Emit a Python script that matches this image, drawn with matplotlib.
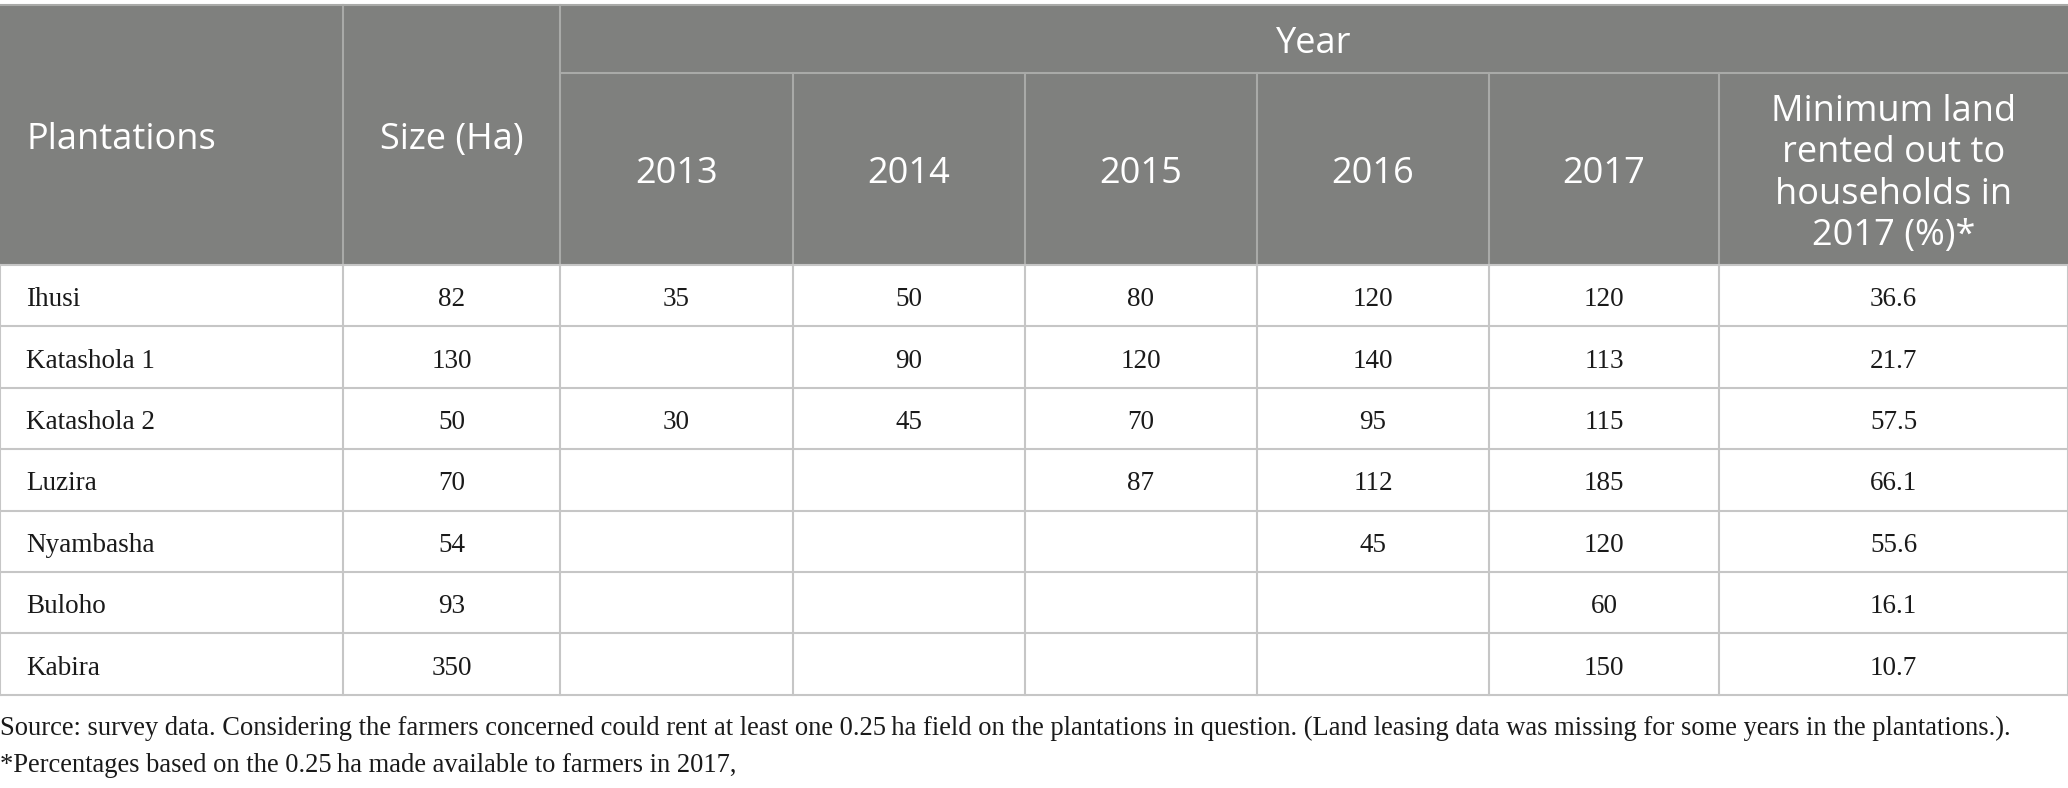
import matplotlib.pyplot as plt
from matplotlib.patches import Rectangle

# table content
plantations = ["Ihusi", "Katashola 1", "Katashola 2", "Luzira", "Nyambasha", "Buloho", "Kabira"]
size_ha = [82, 130, 50, 70, 54, 93, 350]
years = ["2013", "2014", "2015", "2016", "2017"]
rented = [
    [35, 50, 80, 120, 120],
    [None, 90, 120, 140, 113],
    [30, 45, 70, 95, 115],
    [None, None, 87, 112, 185],
    [None, None, None, 45, 120],
    [None, None, None, None, 60],
    [None, None, None, None, 150],
]
min_share = [36.6, 21.7, 57.5, 66.1, 55.6, 16.1, 10.7]
col_heads = ["Plantations", "Size (Ha)"]
last_head = "Minimum land\nrented out to\nhouseholds in\n2017 (%)*"
notes = [
    "Source: survey data. Considering the farmers concerned could rent at least one 0.25\u2009ha field "
    "on the plantations in question. (Land leasing data was missing for some years in the plantations.).",
    "*Percentages based on the 0.25\u2009ha made available to farmers in 2017,",
]

# layout in pixels
W, H = 2068, 788
col_x = [0, 343, 560, 793, 1025, 1257, 1489, 1719, 2068]
top, mid, head_bot = 5, 73, 265
row_h = 61.4
HEAD_BG = "#7f807e"
HEAD_LINE = "#a9aaa8"
GRID = "#c6c6c6"
INK = "#1a1a1a"
SANS = ["Open Sans", "DejaVu Sans"]
SERIF = ["Liberation Serif", "DejaVu Serif"]
HFS, BFS = 26, 19.5

fig = plt.figure(figsize=(W / 100, H / 100), dpi=100)
ax = fig.add_axes([0, 0, 1, 1])
ax.set_xlim(0, W)
ax.set_ylim(H, 0)
ax.axis("off")

# header block
ax.add_patch(Rectangle((0, top), W, head_bot - top, color=HEAD_BG, lw=0))
ax.plot([0, W], [top, top], color=HEAD_LINE, lw=1.5)
ax.plot([col_x[2], W], [mid, mid], color=HEAD_LINE, lw=1.5)
for i, x in enumerate(col_x[1:-1], start=1):
    y0 = top if i <= 2 else mid
    ax.plot([x, x], [y0, head_bot], color=HEAD_LINE, lw=1.5)

hc = (top + head_bot) / 2 + 5
ax.text(26, hc, col_heads[0], color="white", fontsize=HFS, family=SANS, ha="left", va="center")
ax.text((col_x[1] + col_x[2]) / 2, hc, col_heads[1], color="white", fontsize=HFS,
        family=SANS, ha="center", va="center")
ax.text((col_x[2] + W) / 2, (top + mid) / 2 + 5, "Year", color="white", fontsize=HFS,
        family=SANS, ha="center", va="center")
sub_c = (mid + head_bot) / 2 + 5
for j, yr in enumerate(years):
    ax.text((col_x[2 + j] + col_x[3 + j]) / 2, sub_c, yr, color="white", fontsize=HFS,
            family=SANS, ha="center", va="center")
ax.text((col_x[7] + col_x[8]) / 2, sub_c, last_head, color="white", fontsize=HFS,
        family=SANS, ha="center", va="center", linespacing=1.2)

# body
n = len(plantations)
bottom = head_bot + n * row_h
for i in range(n + 1):
    y = head_bot + i * row_h
    ax.plot([0, W], [y, y], color=GRID, lw=1.5)
for x in col_x:
    ax.plot([x, x], [head_bot, bottom], color=GRID, lw=1.5)

for i, name in enumerate(plantations):
    yc = head_bot + (i + 0.5) * row_h + 4
    ax.text(26, yc, name, fontsize=BFS, family=SERIF, ha="left", va="center", color=INK)
    ax.text((col_x[1] + col_x[2]) / 2, yc, str(size_ha[i]), fontsize=BFS, family=SERIF,
            ha="center", va="center", color=INK)
    for j, v in enumerate(rented[i]):
        if v is None:
            continue
        ax.text((col_x[2 + j] + col_x[3 + j]) / 2, yc, str(v), fontsize=BFS, family=SERIF,
                ha="center", va="center", color=INK)
    ax.text((col_x[7] + col_x[8]) / 2, yc, f"{min_share[i]:.1f}", fontsize=BFS, family=SERIF,
            ha="center", va="center", color=INK)

# footnotes
for k, line in enumerate(notes):
    ax.text(0, 728 + k * 37, line, fontsize=19.1, family=SERIF, ha="left", va="center",
            color=INK)

fig.savefig("out.png", dpi=100)
